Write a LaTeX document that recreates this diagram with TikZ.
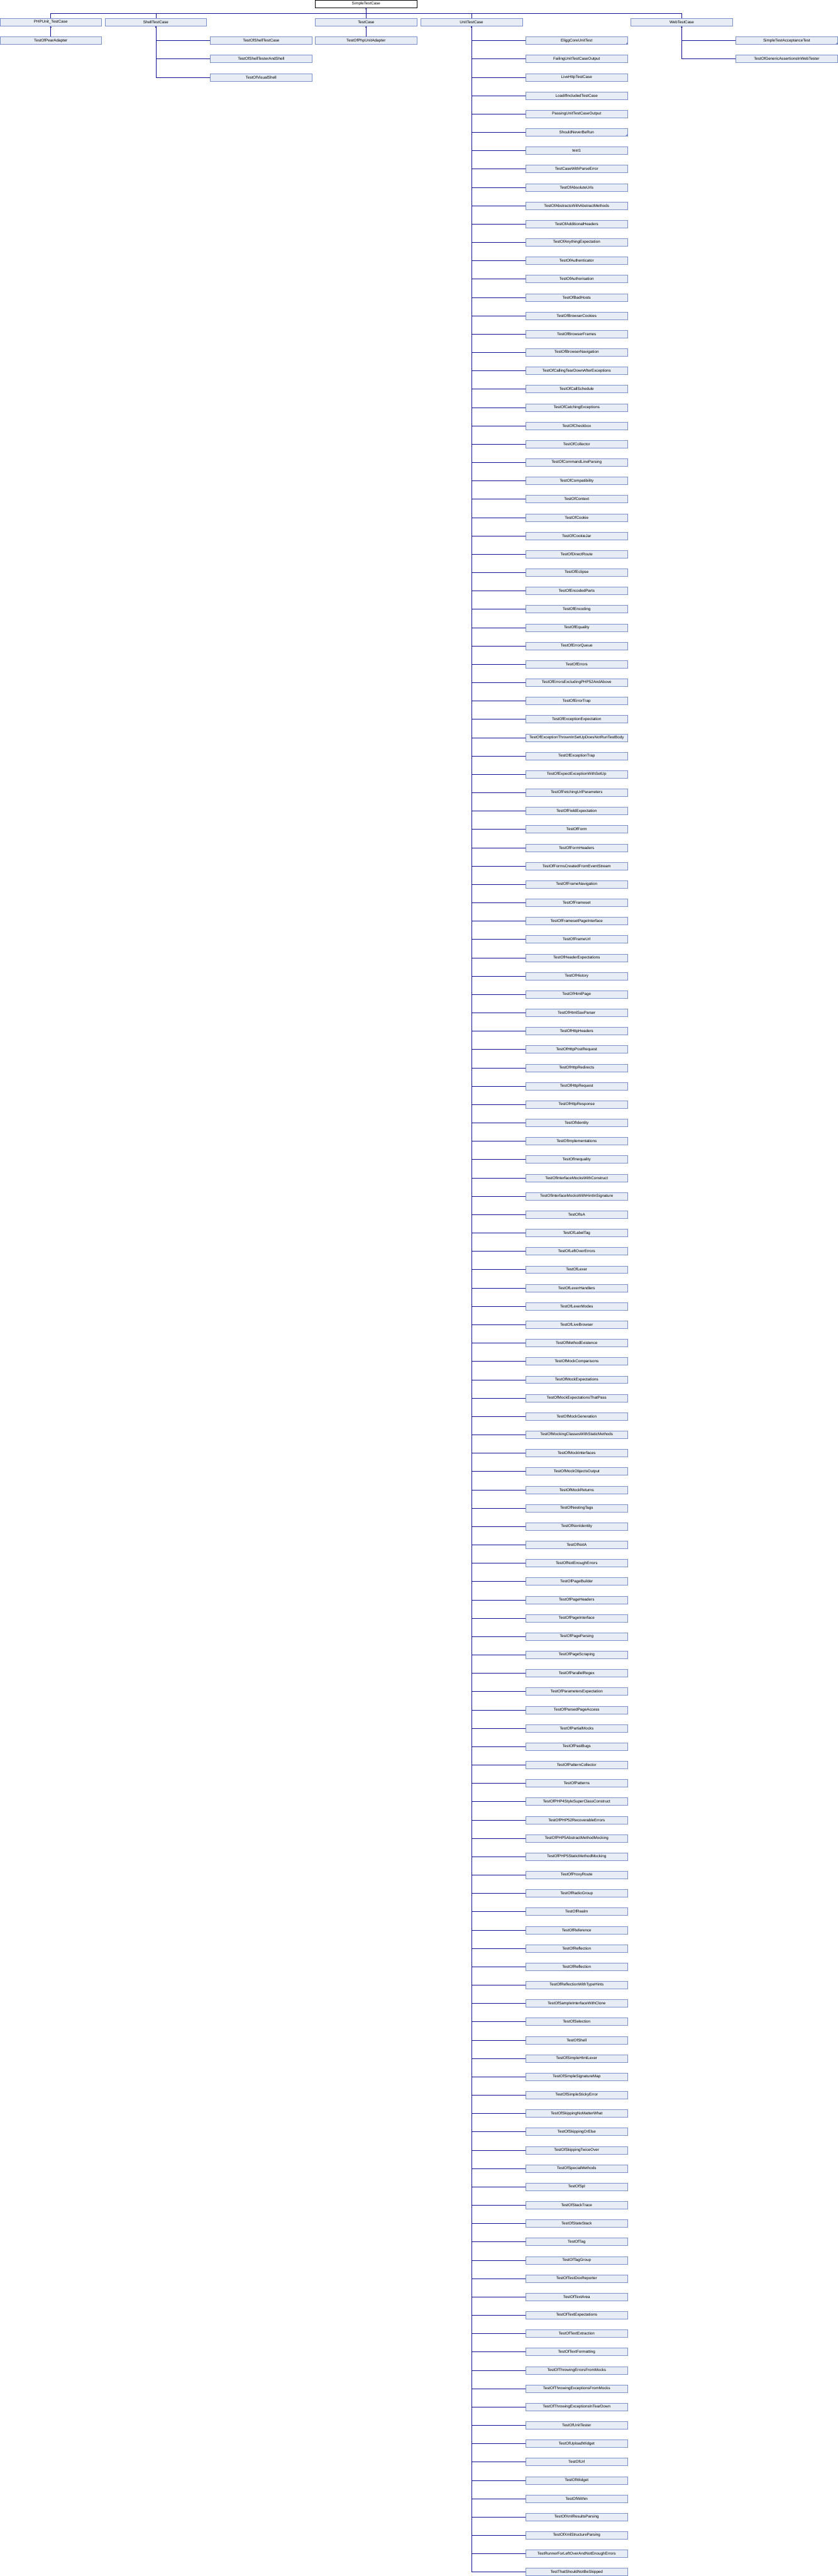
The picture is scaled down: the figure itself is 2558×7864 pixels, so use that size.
\documentclass[tikz,border=0pt]{standalone}
\usepackage{fontspec}
\setmainfont{Liberation Sans}
\usetikzlibrary{arrows.meta}
\definecolor{boxfill}{RGB}{232,236,245}
\definecolor{boxline}{RGB}{120,143,200}
\definecolor{edgecol}{RGB}{15,15,150}
\tikzset{
  box/.style={rectangle, draw=boxline, fill=boxfill, line width=1pt,
    minimum width=310pt, minimum height=23pt, inner sep=0pt,
    font=\fontsize{12}{14}\selectfont},
  rootbox/.style={box, draw=black, fill=white},
  edge/.style={draw=edgecol, line width=1pt},
  tip/.style={-{Triangle[length=4.5pt,width=4.5pt]}},
  more/.style={fill=boxline}
}
\begin{document}
\begin{tikzpicture}[x=1pt,y=-1pt]
\fill[white] (0,0) rectangle (2558,7864);
\useasboundingbox (0,0) rectangle (2558,7864);
% top
\node[rootbox] (SimpleTestCase) at (1118,11.8) {SimpleTestCase};
\node[box] (PHPUnitTestCase) at (155,67.8) {PHPUnit\_TestCase};
\node[box] (ShellTestCase) at (476,67.8) {ShellTestCase};
\node[box] (TestCase) at (1118,67.8) {TestCase};
\node[box] (UnitTestCase) at (1440,67.8) {UnitTestCase};
\node[box] (WebTestCase) at (2082,67.8) {WebTestCase};
\coordinate (bus) at (1118,40);
\draw[edge] (PHPUnitTestCase.north) |- (bus);
\draw[edge] (ShellTestCase.north) |- (bus);
\draw[edge] (UnitTestCase.north) |- (bus);
\draw[edge] (WebTestCase.north) |- (bus);
\draw[edge,tip] (TestCase.north) -- (SimpleTestCase.south);
% PHPUnit child
\node[box] (TestOfPearAdapter) at (155,123.8) {TestOfPearAdapter};
\draw[edge,tip] (TestOfPearAdapter.north) -- (PHPUnitTestCase.south);
% TestCase child
\node[box] (TestOfPhpUnitAdapter) at (1118,123.8) {TestOfPhpUnitAdapter};
\draw[edge,tip] (TestOfPhpUnitAdapter.north) -- (TestCase.south);
% Shell children
\node[box] (s1) at (797.5,123.8) {TestOfShellTestCase};
\node[box] (s2) at (797.5,179.8) {TestOfShellTesterAndShell};
\node[box] (s3) at (797.5,235.8) {TestOfVisualShell};
\draw[edge] (s1.west) -| (ShellTestCase.south);
\draw[edge] (s2.west) -| (ShellTestCase.south);
\draw[edge,tip] (s3.west) -| (ShellTestCase.south);
% Web children
\node[box] (w1) at (2402.5,123.8) {SimpleTestAcceptanceTest};
\node[box] (w2) at (2402.5,179.8) {TestOfGenericAssertionsInWebTester};
\draw[edge] (w1.west) -| (WebTestCase.south);
\draw[edge,tip] (w2.west) -| (WebTestCase.south);
\fill[more] (w1.south east) -- ++(-7,0) -- ++(7,-7) -- cycle;
% UnitTestCase children
\foreach \nm [count=\i] in {EliggCoreUnitTest,FailingUnitTestCaseOutput,LiveHttpTestCase,LoadIfIncludedTestCase,PassingUnitTestCaseOutput,ShouldNeverBeRun,test1,TestCaseWithParseError,TestOfAbsoluteUrls,TestOfAbstractsWithAbstractMethods,TestOfAdditionalHeaders,TestOfAnythingExpectation,TestOfAuthenticator,TestOfAuthorisation,TestOfBadHosts,TestOfBrowserCookies,TestOfBrowserFrames,TestOfBrowserNavigation,TestOfCallingTearDownAfterExceptions,TestOfCallSchedule,TestOfCatchingExceptions,TestOfCheckbox,TestOfCollector,TestOfCommandLineParsing,TestOfCompatibility,TestOfContext,TestOfCookie,TestOfCookieJar,TestOfDirectRoute,TestOfEclipse,TestOfEncodedParts,TestOfEncoding,TestOfEquality,TestOfErrorQueue,TestOfErrors,TestOfErrorsExcludingPHP52AndAbove,TestOfErrorTrap,TestOfExceptionExpectation,TestOfExceptionThrownInSetUpDoesNotRunTestBody,TestOfExceptionTrap,TestOfExpectExceptionWithSetUp,TestOfFetchingUrlParameters,TestOfFieldExpectation,TestOfForm,TestOfFormHeaders,TestOfFormsCreatedFromEventStream,TestOfFrameNavigation,TestOfFrameset,TestOfFramesetPageInterface,TestOfFrameUrl,TestOfHeaderExpectations,TestOfHistory,TestOfHtmlPage,TestOfHtmlSaxParser,TestOfHttpHeaders,TestOfHttpPostRequest,TestOfHttpRedirects,TestOfHttpRequest,TestOfHttpResponse,TestOfIdentity,TestOfImplementations,TestOfInequality,TestOfInterfaceMocksWithConstruct,TestOfInterfaceMocksWithHintInSignature,TestOfIsA,TestOfLabelTag,TestOfLeftOverErrors,TestOfLexer,TestOfLexerHandlers,TestOfLexerModes,TestOfLiveBrowser,TestOfMethodExistence,TestOfMockComparisons,TestOfMockExpectations,TestOfMockExpectationsThatPass,TestOfMockGeneration,TestOfMockingClassesWithStaticMethods,TestOfMockInterfaces,TestOfMockObjectsOutput,TestOfMockReturns,TestOfNestingTags,TestOfNonIdentity,TestOfNotA,TestOfNotEnoughErrors,TestOfPageBuilder,TestOfPageHeaders,TestOfPageInterface,TestOfPageParsing,TestOfPageScraping,TestOfParallelRegex,TestOfParametersExpectation,TestOfParsedPageAccess,TestOfPartialMocks,TestOfPastBugs,TestOfPatternCollector,TestOfPatterns,TestOfPHP4StyleSuperClassConstruct,TestOfPHP52RecoverableErrors,TestOfPHP5AbstractMethodMocking,TestOfPHP5StaticMethodMocking,TestOfProxyRoute,TestOfRadioGroup,TestOfRealm,TestOfReference,TestOfReflection,TestOfReflection,TestOfReflectionWithTypeHints,TestOfSampleInterfaceWithClone,TestOfSelection,TestOfShell,TestOfSimpleHtmlLexer,TestOfSimpleSignatureMap,TestOfSimpleStickyError,TestOfSkippingNoMatterWhat,TestOfSkippingOrElse,TestOfSkippingTwiceOver,TestOfSpecialMethods,TestOfSpl,TestOfStackTrace,TestOfStateStack,TestOfTag,TestOfTagGroup,TestOfTestDoxReporter,TestOfTextArea,TestOfTextExpectations,TestOfTextExtraction,TestOfTextFormatting,TestOfThrowingErrorsFromMocks,TestOfThrowingExceptionsFromMocks,TestOfThrowingExceptionsInTearDown,TestOfUnitTester,TestOfUploadWidget,TestOfUrl,TestOfWidget,TestOfWithin,TestOfXmlResultsParsing,TestOfXmlStructureParsing,TestRunnerForLeftOverAndNotEnoughErrors,TestThatShouldNotBeSkipped}
{
  \node[box] (c\i) at (1761,{123.8+56*(\i-1)}) {\nm};
}
\foreach \i in {1,...,138} { \draw[edge] (c\i.west) -| (UnitTestCase.south); }
\draw[edge,tip] (c139.west) -| (UnitTestCase.south);
\fill[more] (c1.south east) -- ++(-7,0) -- ++(7,-7) -- cycle;
\fill[more] (c6.south east) -- ++(-7,0) -- ++(7,-7) -- cycle;
\end{tikzpicture}
\end{document}
